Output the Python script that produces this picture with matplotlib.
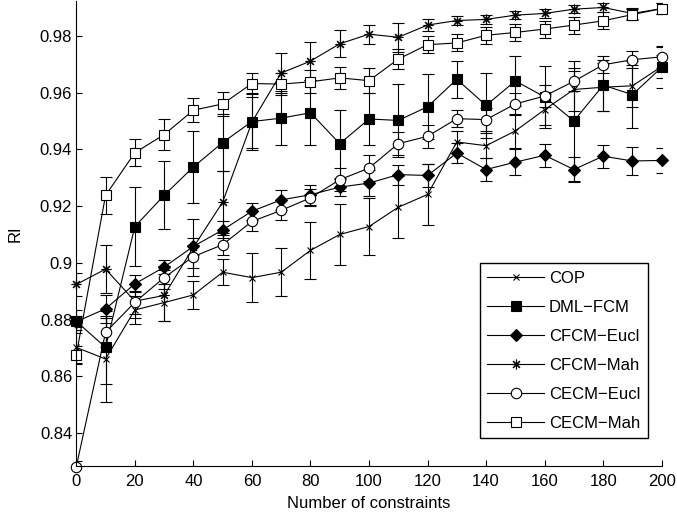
import numpy as np
import matplotlib
matplotlib.use('Agg')
import matplotlib.pyplot as plt

plt.close('all')

plt.rcParams['font.family'] = ['Liberation Sans', 'DejaVu Sans']
plt.rcParams['font.size'] = 12

# liczba ograniczen
n_constr = list(range(0, 201, 10))

# Wartosci RI
cop = [0.8702, 0.8661, 0.8834, 0.8860, 0.8887, 0.8967, 0.8948, 0.8967, 0.9044, 0.9100, 0.9128,
       0.9196, 0.9241, 0.9426, 0.9413, 0.9465, 0.9540, 0.9611, 0.9619, 0.9624, 0.9692]
cop_err = [0.006, 0.015, 0.005, 0.0065, 0.0048, 0.0045, 0.0087, 0.0084, 0.0101, 0.0106, 0.0101,
           0.0109, 0.0107, 0.004, 0.0045, 0.006, 0.0055, 0.0075, 0.0085, 0.0075, 0.004]

dml = [0.8794, 0.8702, 0.9128, 0.9238, 0.9338, 0.9424, 0.9498, 0.9510, 0.9529, 0.9420, 0.9507,
       0.9502, 0.9550, 0.9647, 0.9555, 0.9641, 0.9585, 0.9500, 0.9626, 0.9593, 0.9689]
dml_err = [0.004, 0.013, 0.014, 0.012, 0.0128, 0.010, 0.0102, 0.0095, 0.0115, 0.012, 0.009,
           0.013, 0.0115, 0.0066, 0.0115, 0.0088, 0.011, 0.021, 0.009, 0.0117, 0.0072]

cfcm_eucl = [0.8793, 0.8838, 0.8926, 0.8985, 0.9058, 0.9116, 0.9182, 0.9222, 0.9240, 0.9267, 0.9281,
             0.9311, 0.9308, 0.9387, 0.9329, 0.9355, 0.9379, 0.9329, 0.9376, 0.9359, 0.9361]
cfcm_eucl_err = [0.002, 0.005, 0.003, 0.0025, 0.003, 0.003, 0.003, 0.0035, 0.0035, 0.003, 0.0045,
                 0.0035, 0.004, 0.0035, 0.004, 0.0045, 0.004, 0.0045, 0.004, 0.005, 0.0045]

cfcm_mah = [0.8924, 0.8978, 0.8865, 0.8885, 0.9055, 0.9214, 0.9496, 0.9669, 0.9711, 0.9772, 0.9806,
            0.9795, 0.9838, 0.9854, 0.9858, 0.9873, 0.9879, 0.9894, 0.9900, 0.9879, 0.9896]
cfcm_mah_err = [0.004, 0.0085, 0.006, 0.009, 0.010, 0.011, 0.009, 0.007, 0.0068, 0.0048, 0.0034,
                0.0052, 0.002, 0.0015, 0.0015, 0.0015, 0.0015, 0.0015, 0.0015, 0.002, 0.002]

cecm_eucl = [0.8282, 0.8755, 0.8861, 0.8948, 0.9022, 0.9064, 0.9146, 0.9185, 0.9229, 0.9293, 0.9334,
             0.9420, 0.9446, 0.9508, 0.9505, 0.9560, 0.9588, 0.9640, 0.9698, 0.9716, 0.9726]
cecm_eucl_err = [0.002, 0.005, 0.004, 0.004, 0.004, 0.0035, 0.0035, 0.0035, 0.003, 0.004, 0.0045,
                 0.004, 0.004, 0.003, 0.004, 0.004, 0.004, 0.0035, 0.003, 0.003, 0.004]

cecm_mah = [0.8676, 0.9238, 0.9388, 0.9452, 0.9538, 0.9560, 0.9632, 0.9630, 0.9638, 0.9652, 0.9642,
            0.9718, 0.9769, 0.9775, 0.9802, 0.9812, 0.9824, 0.9838, 0.9853, 0.9875, 0.9896]
cecm_mah_err = [0.003, 0.0065, 0.0048, 0.0055, 0.0042, 0.0042, 0.0038, 0.004, 0.004, 0.004, 0.0045,
                0.0035, 0.003, 0.003, 0.003, 0.003, 0.003, 0.003, 0.003, 0.002, 0.002]

labels = ['COP', 'DML\u2212FCM', 'CFCM\u2212Eucl', 'CFCM\u2212Mah', 'CECM\u2212Eucl', 'CECM\u2212Mah']

# styl: (marker, rozmiar, wypelnienie)
asterisk = (8, 2, 0)
styles = [('x', 5, 'k'), ('s', 6.5, 'k'), ('D', 6, 'k'),
          (asterisk, 7, 'k'), ('o', 7.5, 'w'), ('s', 6.5, 'w')]

data = [(cop, cop_err), (dml, dml_err), (cfcm_eucl, cfcm_eucl_err),
        (cfcm_mah, cfcm_mah_err), (cecm_eucl, cecm_eucl_err), (cecm_mah, cecm_mah_err)]

fig = plt.figure(figsize=(6.77, 5.17), dpi=100)
ax = fig.add_axes([0.1127, 0.0986, 0.8647, 0.899])

handles = []
for (y, e), (m, ms, fc), lab in zip(data, styles, labels):
    cont = ax.errorbar(n_constr, y, yerr=e, color='k', lw=0.8, elinewidth=0.8,
                       capsize=4, capthick=0.8, marker=m, ms=ms, mfc=fc, mec='k',
                       mew=0.8, label=lab)
    cont[0].set_clip_on(False)
    handles.append(cont[0])

ax.set_xlim(0, 200)
ax.set_ylim(0.8284, 0.9922)
ax.set_xticks(np.arange(0, 201, 20))
ax.set_yticks([0.84, 0.86, 0.88, 0.9, 0.92, 0.94, 0.96, 0.98])
ax.set_yticklabels(['0.84', '0.86', '0.88', '0.9', '0.92', '0.94', '0.96', '0.98'])
ax.tick_params(direction='in', length=4, width=0.8)
ax.tick_params(axis='x', pad=6)
ax.tick_params(axis='y', pad=3)
ax.spines['top'].set_visible(False)
ax.spines['right'].set_visible(False)
ax.spines['left'].set_linewidth(0.8)
ax.spines['bottom'].set_linewidth(0.8)

ax.set_xlabel('Number of constraints', labelpad=5)
ax.set_ylabel('RI', labelpad=12)

leg = ax.legend(handles, labels, loc='lower right', bbox_to_anchor=(0.957, 0.1528),
                bbox_transform=fig.transFigure, fancybox=False, framealpha=1,
                edgecolor='k', handlelength=3.4, handletextpad=0.3,
                labelspacing=0.84, borderpad=0.45, borderaxespad=0)
leg.get_frame().set_linewidth(1.0)

fig.savefig('out.png', dpi=100)
